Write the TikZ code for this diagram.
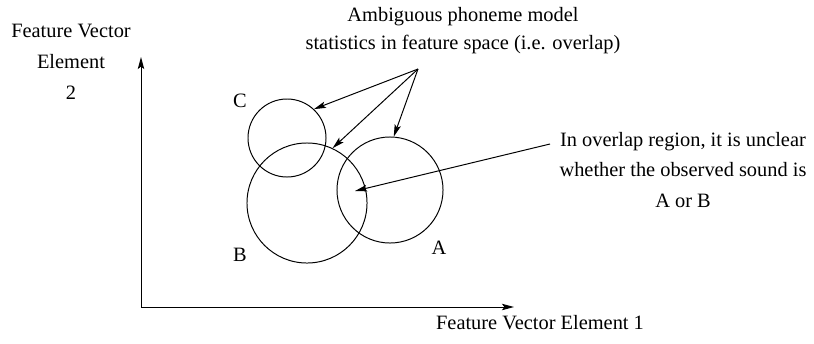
\documentclass[tikz,border=0pt]{standalone}
\usepackage{fontspec}
\setmainfont{Liberation Serif}
\usetikzlibrary{arrows.meta}
\tikzset{
	slika/.style={x=0.025cm, y=-0.025cm, font=\fontsize{14.5}{22}\selectfont,
	              >={Stealth[length=3mm,width=1.6mm,inset=0.6mm]}},
	krog/.style={draw, circle, line width=0.7pt, inner sep=0pt},
	os/.style={->, line width=0.7pt},
	kazalec/.style={->, line width=0.7pt},
	oznaka/.style={align=center, inner sep=0pt},
}

\begin{document}
\begin{tikzpicture}[slika]
\useasboundingbox (0,0) rectangle (814,343);

% ---------- osi ----------
\coordinate (izhodisce) at (141,307);
\coordinate (vrhy) at (141,57);
\coordinate (konecx) at (514,307);
\draw[os] (izhodisce) -- (vrhy);
\draw[os] (izhodisce) -- (konecx);
\node[oznaka] (osy) at (71,62) {Feature Vector\\Element\\2};
\node[oznaka] (osx) at (540,323) {Feature Vector Element 1};

% ---------- razredi ----------
\node[krog, minimum size=1.95cm] (C) at (287,138) {};
\node[krog, minimum size=3.0cm] (B) at (307,203) {};
\node[krog, minimum size=2.65cm] (A) at (390,190) {};
\node[oznaka] (oznC) at (240,101) {C};
\node[oznaka] (oznB) at (240,255) {B};
\node[oznaka] (oznA) at (439,248) {A};

% ---------- opombe ----------
\node[oznaka, font=\fontsize{14.5}{20}\selectfont] (opis1) at (463,31)
    {Ambiguous phoneme model\\statistics in feature space (i.e. overlap)};
\coordinate (izvor) at (418,69);
\draw[kazalec] (izvor) -- (C.47);
\draw[kazalec] (izvor) -- (B.65);
\draw[kazalec] (izvor) -- (A.86);

\node[oznaka] (opis2) at (683,170)
    {In overlap region, it is unclear\\whether the observed sound is\\A or B};
\coordinate (zacetek) at (550,144);
\coordinate (presek) at (355,191);
\draw[kazalec] (zacetek) -- (presek);

\end{tikzpicture}
\end{document}
